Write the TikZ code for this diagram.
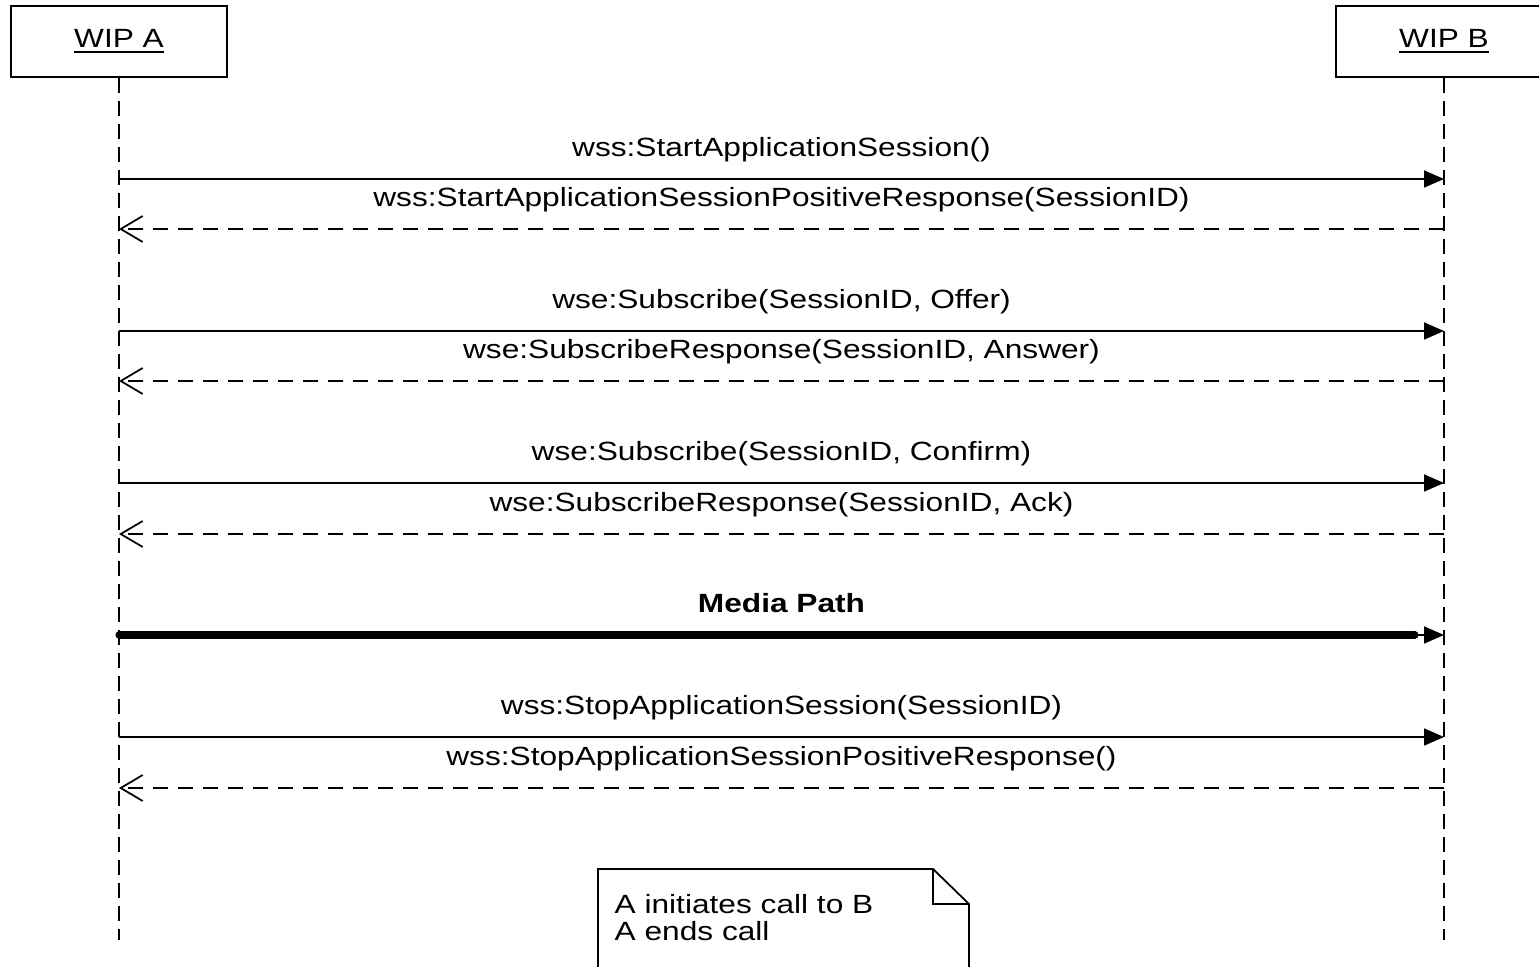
\documentclass[tikz,border=0pt]{standalone}
\usepackage{fontspec}
\setmainfont{Liberation Sans}[FakeStretch=1.2]
\usetikzlibrary{arrows.meta}

\tikzset{
  actor/.style={draw, line width=0.5pt, minimum width=2.16cm, minimum height=0.71cm, inner sep=0pt},
  lifeline/.style={line width=0.5pt, dash pattern=on 0.15cm off 0.08cm},
  call/.style={line width=0.5pt, -{Triangle[length=0.2cm, width=0.17cm]}},
  reply/.style={line width=0.5pt, dash pattern=on 0.15cm off 0.1cm, -{Straight Barb[length=0.22cm, width=0.26cm]}},
  msg/.style={above=4.2pt, inner sep=0pt, text depth=2pt},
  media/.style={line width=2pt, line cap=round},
  notetext/.style={anchor=base west, inner sep=0pt},
}

\begin{document}
\begin{tikzpicture}[x=0.01cm, y=-0.01cm, font=\fontsize{7.5}{9}\selectfont]

\useasboundingbox (0,0) rectangle (1539,967);

% actors
\node[actor] (wipA) at (119,41.5) {\underline{WIP A}};
\node[actor] (wipB) at (1444,41.5) {\underline{WIP B}};

% lifelines
\coordinate (endA) at (119,940);
\coordinate (endB) at (1444,940);
\draw[lifeline] (wipA.south) -- (endA);
\draw[lifeline] (wipB.south) -- (endB);

% message points on the lifelines
\coordinate (a1) at (119,179); \coordinate (b1) at (1444,179);
\coordinate (a2) at (119,229); \coordinate (b2) at (1444,229);
\coordinate (a3) at (119,331); \coordinate (b3) at (1444,331);
\coordinate (a4) at (119,381); \coordinate (b4) at (1444,381);
\coordinate (a5) at (119,483); \coordinate (b5) at (1444,483);
\coordinate (a6) at (119,534); \coordinate (b6) at (1444,534);
\coordinate (a7) at (119,635); \coordinate (b7) at (1444,635);
\coordinate (m7) at (1415,635);
\coordinate (a8) at (119,737); \coordinate (b8) at (1444,737);
\coordinate (a9) at (119,788); \coordinate (b9) at (1444,788);

% messages
\draw[call] (a1) -- node[msg] {wss:StartApplicationSession()} (b1);
\draw[reply] (b2) -- node[msg] {wss:StartApplicationSessionPositiveResponse(SessionID)} (a2);

\draw[call] (a3) -- node[msg] {wse:Subscribe(SessionID, Offer)} (b3);
\draw[reply] (b4) -- node[msg] {wse:SubscribeResponse(SessionID, Answer)} (a4);

\draw[call] (a5) -- node[msg] {wse:Subscribe(SessionID, Confirm)} (b5);
\draw[reply] (b6) -- node[msg] {wse:SubscribeResponse(SessionID, Ack)} (a6);

\draw[call] (a7) -- node[msg, font=\fontsize{7.5}{9}\selectfont\bfseries] {Media Path} (b7);
\draw[media] (a7) -- (m7);

\draw[call] (a8) -- node[msg] {wss:StopApplicationSession(SessionID)} (b8);
\draw[reply] (b9) -- node[msg] {wss:StopApplicationSessionPositiveResponse()} (a9);

% note
\draw[line width=0.5pt] (598,967) -- (598,869) -- (933,869) -- (969,904) -- (969,967);
\draw[line width=0.5pt] (933,869) -- (933,904) -- (969,904);
\node[notetext] (note1) at (614,913) {A initiates call to B};
\node[notetext] (note2) at (614,940) {A ends call};

\end{tikzpicture}
\end{document}
